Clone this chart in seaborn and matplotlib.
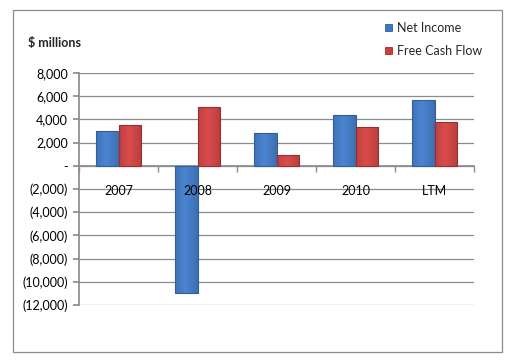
import matplotlib
matplotlib.use("Agg")
import matplotlib.pyplot as plt
import seaborn as sns
import pandas as pd
import numpy as np
from matplotlib.patches import Rectangle
from matplotlib.ticker import FuncFormatter, FixedLocator

categories = ["2007", "2008", "2009", "2010", "LTM"]
net_income = [3000, -11000, 2820, 4370, 5690]
free_cash_flow = [3530, 5070, 950, 3360, 3790]
series_names = ["Net Income", "Free Cash Flow"]
y_ticks = [8000, 6000, 4000, 2000, 0, -2000, -4000, -6000, -8000, -10000, -12000]

df = pd.DataFrame({
    "Period": categories * 2,
    "Value": net_income + free_cash_flow,
    "Series": [series_names[0]] * len(categories) + [series_names[1]] * len(categories),
})

sns.set_theme(style="white")
plt.rcParams["font.family"] = ["Lato", "DejaVu Sans"]
FS = 9

fig = plt.figure(figsize=(5.3, 3.64), dpi=100)
ax = fig.add_axes([79 / 530, 1 - 305 / 364, (474 - 79) / 530, (305 - 73) / 364])

colors = {"Net Income": "#3d78c6", "Free Cash Flow": "#cf3e3e"}
sns.barplot(data=df, x="Period", y="Value", hue="Series", palette=colors,
            width=0.57, ax=ax, legend=False, saturation=1,
            edgecolor="none", zorder=3)

# gentle shading for bevel look
edge_cols = {"Net Income": "#2f5f9e", "Free Cash Flow": "#9a2d2d"}
gx = np.linspace(0, 1, 64)
shade = 1.0 - 0.18 * np.abs(gx - 0.45) / 0.55
for cont, name in zip(ax.containers, series_names):
    base = np.array(matplotlib.colors.to_rgb(colors[name]))
    img = np.clip(base[None, None, :] * shade[None, :, None] + 0.05, 0, 1)
    for p in cont.patches:
        x0, y0 = p.get_x(), p.get_y()
        w, h = p.get_width(), p.get_height()
        im = ax.imshow(img, extent=[x0, x0 + w, y0, y0 + h], aspect="auto",
                       zorder=3.5, interpolation="bilinear")
        im.set_clip_path(p)
        r = Rectangle((x0, y0), w, h, fill=False, edgecolor=edge_cols[name],
                      linewidth=0.8, zorder=4)
        ax.add_patch(r)

ax.set_xlim(-0.5, 4.5)
ax.set_ylim(-12000, 8000)
ax.set_yticks(y_ticks)

def fmt(v, pos):
    if abs(v) < 1e-9:
        return "-"
    if v < 0:
        return "({:,.0f})".format(-v)
    return "{:,.0f}".format(v)

ax.yaxis.set_major_formatter(FuncFormatter(fmt))
ax.grid(axis="y", color="#8c8c8c", linewidth=0.9, zorder=0)
ax.set_axisbelow(True)
ax.xaxis.set_zorder(6)

for s in ["top", "right"]:
    ax.spines[s].set_visible(False)
ax.spines["left"].set_color("#8c8c8c")
ax.spines["bottom"].set_position(("data", 0))
ax.spines["bottom"].set_color("#8c8c8c")
ax.spines["bottom"].set_zorder(2)

ax.set_xlabel("")
ax.set_ylabel("")
ax.tick_params(axis="y", which="major", length=4, color="#8c8c8c", labelsize=FS, pad=4, left=True)
ax.tick_params(axis="x", which="major", length=0, labelsize=FS, pad=14)
ax.xaxis.set_minor_locator(FixedLocator([-0.5, 0.5, 1.5, 2.5, 3.5, 4.5]))
ax.tick_params(axis="x", which="minor", length=4, color="#8c8c8c", bottom=True, direction="out")
for lbl in ax.get_xticklabels() + ax.get_yticklabels():
    lbl.set_color("black")

fig.text(28 / 530, 1 - 43 / 364, "$ millions", fontsize=FS, fontweight="bold",
         va="center", ha="left")

# legend
for i, name in enumerate(series_names):
    yy = 1 - (28 + 23 * i) / 364
    fig.patches.append(Rectangle((385 / 530, yy - 3.5 / 364), 7 / 530, 7 / 364,
                                 transform=fig.transFigure, facecolor=colors[name],
                                 edgecolor=edge_cols[name], linewidth=0.6))
    fig.text(397 / 530, yy, name, fontsize=FS, va="center", ha="left")

# outer frame
fig.patches.append(Rectangle((12.5 / 530, 1 - 352 / 364), (502 - 12.5) / 530, (352 - 9.5) / 364,
                             transform=fig.transFigure, fill=False,
                             edgecolor="#8c8c8c", linewidth=0.9))

fig.savefig("out.png", dpi=100)
